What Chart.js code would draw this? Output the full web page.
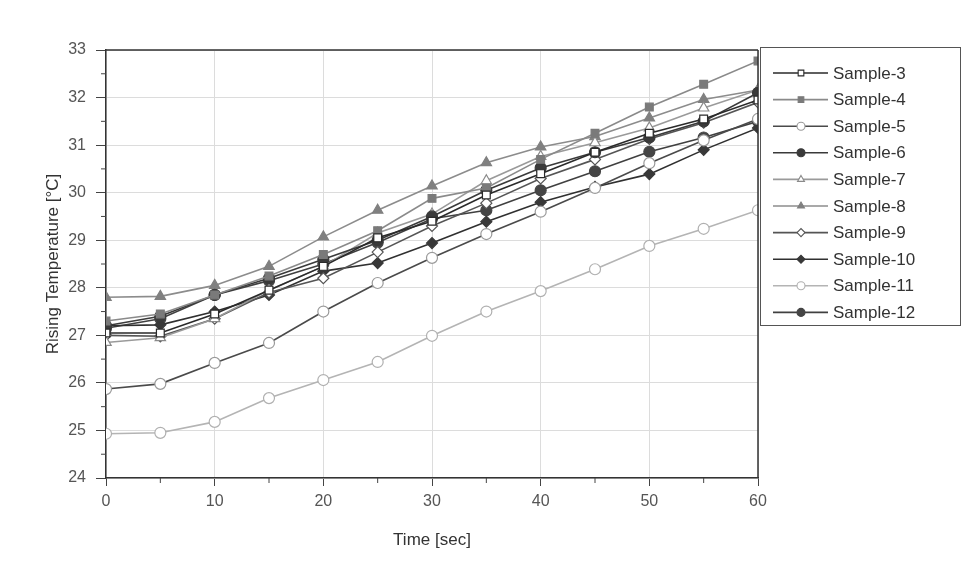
<!DOCTYPE html>
<html>
<head>
<meta charset="utf-8">
<script src="https://cdn.jsdelivr.net/npm/chart.js@4/dist/chart.umd.min.js"></script>
<style>
  html, body { margin: 0; padding: 0; background: #fff; }
  #wrap { width: 976px; height: 569px; }
</style>
</head>
<body>
<div id="wrap"><canvas id="chart" width="976" height="569"></canvas></div>
<script>
// time axis (sec)
const times = [0, 5, 10, 15, 20, 25, 30, 35, 40, 45, 50, 55, 60];

// rising temperature per sample (°C)
const sample3  = [27.05, 27.05, 27.45, 27.95, 28.45, 29.05, 29.40, 29.95, 30.40, 30.85, 31.25, 31.55, 31.95];
const sample4  = [27.30, 27.45, 27.85, 28.25, 28.70, 29.20, 29.88, 30.10, 30.70, 31.25, 31.80, 32.28, 32.77];
const sample5  = [25.87, 25.98, 26.42, 26.84, 27.50, 28.10, 28.63, 29.13, 29.60, 30.10, 30.62, 31.10, 31.55];
const sample6  = [27.20, 27.40, 27.85, 28.20, 28.60, 29.00, 29.50, 30.05, 30.52, 30.85, 31.16, 31.50, 32.10];
const sample7  = [26.85, 26.95, 27.35, 27.95, 28.45, 29.15, 29.55, 30.25, 30.76, 31.05, 31.36, 31.78, 32.16];
const sample8  = [27.80, 27.82, 28.05, 28.45, 29.07, 29.63, 30.14, 30.63, 30.96, 31.18, 31.57, 31.96, 32.16];
const sample9  = [27.00, 26.98, 27.35, 27.90, 28.20, 28.75, 29.30, 29.78, 30.30, 30.70, 31.13, 31.47, 31.90];
const sample10 = [27.20, 27.22, 27.50, 27.85, 28.35, 28.52, 28.94, 29.39, 29.80, 30.12, 30.39, 30.90, 31.36];
const sample11 = [24.93, 24.95, 25.18, 25.68, 26.06, 26.44, 26.99, 27.50, 27.93, 28.39, 28.88, 29.24, 29.63];
const sample12 = [27.15, 27.35, 27.85, 28.15, 28.50, 28.95, 29.45, 29.63, 30.05, 30.45, 30.86, 31.16, 31.50];

const seriesNames = ['Sample-3', 'Sample-4', 'Sample-5', 'Sample-6', 'Sample-7',
                     'Sample-8', 'Sample-9', 'Sample-10', 'Sample-11', 'Sample-12'];
const seriesData = [sample3, sample4, sample5, sample6, sample7,
                    sample8, sample9, sample10, sample11, sample12];

const yTicks = [24, 25, 26, 27, 28, 29, 30, 31, 32, 33];
const xTicks = [0, 10, 20, 30, 40, 50, 60];

const FONT = '"Liberation Sans", Arial, sans-serif';

// marker / line look for each sample
const looks = [
  { line: '#2a2a2a', fill: '#ffffff', edge: '#2a2a2a', shape: 'rect' },
  { line: '#8a8a8a', fill: '#7a7a7a', edge: '#7a7a7a', shape: 'rect' },
  { line: '#4a4a4a', fill: '#ffffff', edge: '#9a9a9a', shape: 'circle' },
  { line: '#3a3a3a', fill: '#3a3a3a', edge: '#3a3a3a', shape: 'circle' },
  { line: '#9a9a9a', fill: '#ffffff', edge: '#8a8a8a', shape: 'triangle' },
  { line: '#8c8c8c', fill: '#808080', edge: '#808080', shape: 'triangle' },
  { line: '#555555', fill: '#ffffff', edge: '#555555', shape: 'rectRot' },
  { line: '#303030', fill: '#383838', edge: '#383838', shape: 'rectRot' },
  { line: '#b4b4b4', fill: '#ffffff', edge: '#b0b0b0', shape: 'circle' },
  { line: '#404040', fill: '#454545', edge: '#454545', shape: 'circle' }
];

const datasets = seriesNames.map((name, i) => ({
  label: name,
  data: times.map((t, k) => ({ x: t, y: seriesData[i][k] })),
  borderColor: looks[i].line,
  borderWidth: 1.6,
  pointStyle: looks[i].shape,
  pointRadius: looks[i].shape === 'triangle' ? 6 : 5.5,
  pointBackgroundColor: looks[i].fill,
  pointBorderColor: looks[i].edge,
  pointBorderWidth: 1.2,
  tension: 0,
  fill: false
}));

// frame, minor ticks and the boxed legend
const framePlugin = {
  id: 'frame',
  afterDraw(chart) {
    const { ctx, chartArea: a, scales } = chart;
    ctx.save();
    ctx.strokeStyle = '#333';
    ctx.lineWidth = 1.5;
    ctx.beginPath();
    ctx.moveTo(a.left, a.top); ctx.lineTo(a.right, a.top);
    ctx.moveTo(a.right, a.top); ctx.lineTo(a.right, a.bottom);
    ctx.stroke();

    // minor ticks
    ctx.lineWidth = 1;
    ctx.strokeStyle = '#444';
    ctx.beginPath();
    for (let v = 24.5; v < 33; v += 1) {
      const y = scales.y.getPixelForValue(v);
      ctx.moveTo(a.left - 5, y); ctx.lineTo(a.left, y);
    }
    for (let v = 5; v < 60; v += 10) {
      const x = scales.x.getPixelForValue(v);
      ctx.moveTo(x, a.bottom); ctx.lineTo(x, a.bottom + 5);
    }
    ctx.stroke();

    // legend box
    const bx = a.right + 2, by = a.top - 3, bw = 200, bh = 278;
    ctx.fillStyle = '#fff';
    ctx.fillRect(bx, by, bw, bh);
    ctx.strokeStyle = '#555';
    ctx.lineWidth = 1;
    ctx.strokeRect(bx + 0.5, by + 0.5, bw, bh);
    ctx.font = '17px ' + FONT;
    ctx.textBaseline = 'middle';
    chart.data.datasets.forEach((ds, i) => {
      const y = by + 26 + i * 26.6;
      ctx.strokeStyle = ds.borderColor;
      ctx.lineWidth = 1.6;
      ctx.beginPath();
      ctx.moveTo(bx + 13, y); ctx.lineTo(bx + 68, y);
      ctx.stroke();
      ctx.fillStyle = ds.pointBackgroundColor;
      ctx.strokeStyle = ds.pointBorderColor;
      ctx.lineWidth = 1.1;
      Chart.helpers.drawPoint(ctx, { pointStyle: ds.pointStyle, radius: 4, borderWidth: 1.1, rotation: 0 }, bx + 41, y);
      ctx.fillStyle = '#333';
      ctx.fillText(ds.label, bx + 73, y + 1);
    });
    ctx.restore();
  }
};

new Chart(document.getElementById('chart'), {
  type: 'line',
  data: { datasets },
  options: {
    responsive: false,
    animation: false,
    layout: { padding: { left: 43, right: 218, top: 50, bottom: 14 } },
    plugins: { legend: { display: false }, tooltip: { enabled: false } },
    scales: {
      x: {
        type: 'linear',
        min: 0, max: 60,
        afterBuildTicks: s => { s.ticks = xTicks.map(v => ({ value: v })); },
        afterFit: s => { s.height = 77; },
        grid: { color: '#dcdcdc', lineWidth: 1, tickLength: 8, tickColor: '#444' },
        border: { color: '#333', width: 1.5 },
        ticks: { color: '#555', font: { size: 16, family: FONT }, padding: 6 },
        title: { display: true, text: 'Time [sec]', color: '#333',
                 font: { size: 17, family: FONT }, padding: { top: 4 } }
      },
      y: {
        type: 'linear',
        min: 24, max: 33,
        afterBuildTicks: s => { s.ticks = yTicks.map(v => ({ value: v })); },
        afterFit: s => { s.width = 63; },
        grid: { color: '#dcdcdc', lineWidth: 1, tickLength: 10, tickColor: '#444' },
        border: { color: '#333', width: 1.5 },
        ticks: { color: '#555', font: { size: 16, family: FONT }, padding: 10 },
        title: { display: true, text: 'Rising Temperature [°C]', color: '#333',
                 font: { size: 17, family: FONT }, padding: 0 }
      }
    }
  },
  plugins: [framePlugin]
});
</script>
</body>
</html>
